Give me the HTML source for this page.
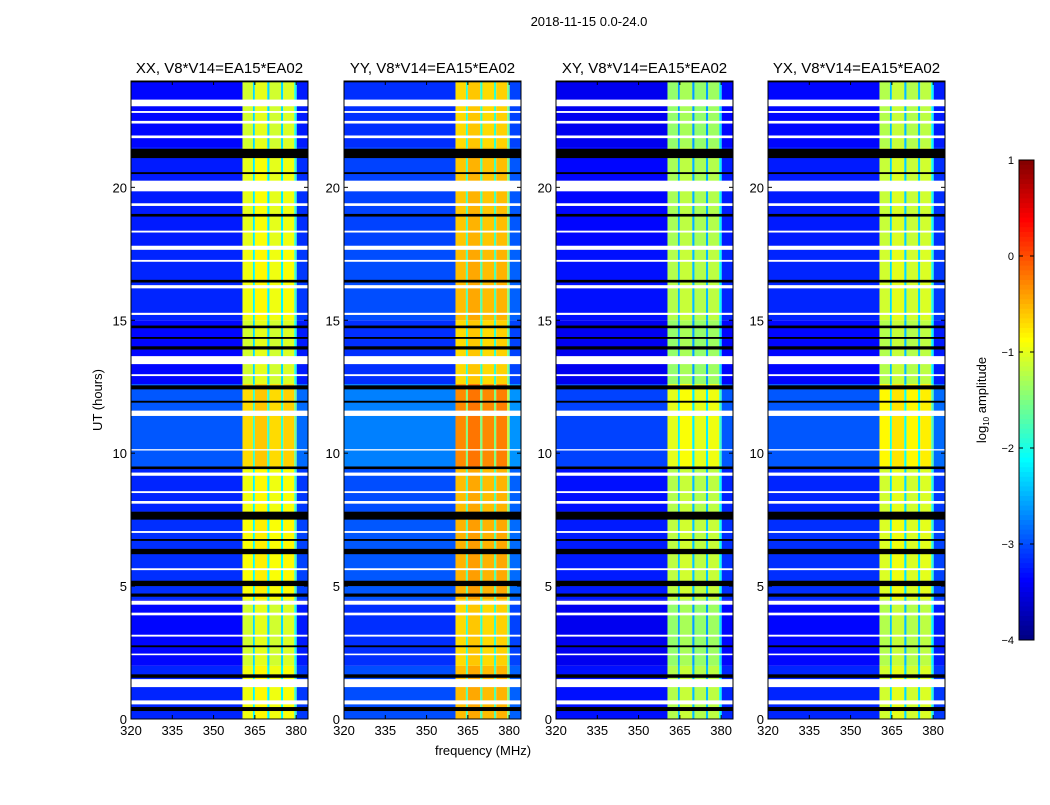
<!DOCTYPE html>
<html><head><meta charset="utf-8"><style>
body{margin:0;background:#fff;font-family:"Liberation Sans","DejaVu Sans",sans-serif}
svg text{font-family:"Liberation Sans","DejaVu Sans",sans-serif;fill:#000}
</style></head><body>
<svg id="fig" width="1050" height="800" xmlns="http://www.w3.org/2000/svg">
<text x="589" y="26" font-size="13" text-anchor="middle">2018-11-15 0.0-24.0</text>
<text x="483" y="755" font-size="13" text-anchor="middle">frequency (MHz)</text>
<text transform="translate(102,400) rotate(-90)" font-size="13" text-anchor="middle">UT (hours)</text>
<g id="panels"></g>
<g id="cbar"></g>
</svg>
<script>
const panelTitles=["XX, V8*V14=EA15*EA02","YY, V8*V14=EA15*EA02","XY, V8*V14=EA15*EA02","YX, V8*V14=EA15*EA02"];
const bgLevels=[-3.25,-3.05,-3.35,-3.25];
const bandLevels=[-1.0,-0.6,-1.3,-1.15];
const subBandStart=[320,360.5,364.3,365.0,369.5,370.3,374.5,375.3,379.3,380.2];
const subBandEnd=[360.5,364.3,365.0,369.5,370.3,374.5,375.3,379.3,380.2,384.5];
const subBandOffset=[0,0,-1.2,0.1,-1.2,0.0,-1.2,0.05,-0.9,-99];
const xTicks=[320,335,350,365,380];
const yTicks=[0,5,10,15,20];
const timeSegStart=[0,2,4.5,7.8,9.5,12.6,15,17.8,21.5];
const timeSegEnd=[2,4.5,7.8,9.5,12.6,15,17.8,21.5,24];
const timeSegOffset=[0.05,-0.1,0.1,0.05,0.3,-0.1,0.05,0.0,-0.1];
const whiteFlags=[[23.05,23.3],[22.4,22.5],[21.85,21.95],[19.85,20.25],[19.3,19.4],[17.65,17.8],[17.2,17.27],[16.2,16.32],[15.2,15.28],[13.35,13.65],[12.9,12.97],[11.4,11.6],[10.1,10.15],[9.15,9.27],[8.5,8.57],[8.1,8.2],[7.0,7.07],[4.3,4.45],[3.9,4.0],[3.1,3.17],[1.2,1.5],[0.55,0.7],[2.4,2.46],[5.6,5.67],[18.3,18.37],[22.8,22.87]];
const blackFlags=[[23.95,24],[21.1,21.45],[20.5,20.57],[18.9,19.0],[16.42,16.52],[14.7,14.8],[13.9,14.02],[12.4,12.55],[11.9,11.97],[9.4,9.5],[7.5,7.8],[6.2,6.4],[5.0,5.2],[4.6,4.72],[2.7,2.77],[1.55,1.68],[0.3,0.45],[6.7,6.77],[14.3,14.37]];
const cbTicks=[1,0,-1,-2,-3,-4];

const NS="http://www.w3.org/2000/svg";
function mk(t,a,p){const e=document.createElementNS(NS,t);for(const k in a)e.setAttribute(k,a[k]);p.appendChild(e);return e;}
function jet(v){let t=(v+4)/5;t=Math.max(0,Math.min(1,t));
 const r=Math.max(0,Math.min(1,1.5-Math.abs(4*t-3))),g=Math.max(0,Math.min(1,1.5-Math.abs(4*t-2))),b=Math.max(0,Math.min(1,1.5-Math.abs(4*t-1)));
 return `rgb(${Math.round(r*255)},${Math.round(g*255)},${Math.round(b*255)})`;}
const lefts=[131,344,556,768],W=177,T=81,B=719;
function xs(p,f){return lefts[p]+(f-320)/(384.3-320)*W;}
function ys(h){return B-h/24*(B-T);}
const root=document.getElementById('panels');
for(let p=0;p<4;p++){
 const g=mk('g',{},root);
 
 
 for(let s=0;s<timeSegStart.length;s++){
  for(let c=0;c<subBandStart.length;c++){
   const base=subBandOffset[c]<-50?bgLevels[p]+0.1:(c==0?bgLevels[p]:bandLevels[p]+subBandOffset[c]);
   const v=base+timeSegOffset[s];
   const x0=xs(p,subBandStart[c]),x1=Math.min(lefts[p]+W,xs(p,subBandEnd[c]));
   const r=mk('rect',{x:x0,y:ys(timeSegEnd[s]),width:x1-x0,height:ys(timeSegStart[s])-ys(timeSegEnd[s]),fill:jet(v)},g);
   
   
  }
 }
 whiteFlags.forEach(f=>{const r=mk('rect',{x:lefts[p],y:ys(f[1]),width:W,height:ys(f[0])-ys(f[1]),fill:'#fff'},g);
  });
 blackFlags.forEach(f=>{const r=mk('rect',{x:lefts[p],y:ys(f[1]),width:W,height:ys(f[0])-ys(f[1]),fill:'#000'},g);
  });
 const fr=mk('rect',{x:lefts[p],y:T,width:W,height:B-T,fill:'none',stroke:'#000','stroke-width':1},g);
 
 const tt=mk('text',{x:lefts[p]+W/2,y:T-8,'font-size':15,'text-anchor':'middle'},g);tt.textContent=panelTitles[p];
 
 xTicks.forEach(v=>{const x=xs(p,v);mk('line',{x1:x,x2:x,y1:B,y2:B-4,stroke:'#000'},g);mk('line',{x1:x,x2:x,y1:T,y2:T+4,stroke:'#000'},g);
  const t=mk('text',{x:x,y:B+16,'font-size':13,'text-anchor':'middle'},g);t.textContent=v;
  });
 yTicks.forEach(v=>{const y=ys(v);mk('line',{x1:lefts[p],x2:lefts[p]+4,y1:y,y2:y,stroke:'#000'},g);mk('line',{x1:lefts[p]+W,x2:lefts[p]+W-4,y1:y,y2:y,stroke:'#000'},g);
  const t=mk('text',{x:lefts[p]-4,y:y+5,'font-size':13,'text-anchor':'end'},g);t.textContent=v;
  });
}
const cb=document.getElementById('cbar');
const cx=1019,cw=15,cT=160,cB=640;
function cy(v){return cT+(1-v)/5*(cB-cT);}
for(let i=0;i<100;i++){const v0=1-i*0.05;mk('rect',{x:cx,y:cy(v0),width:cw,height:(cB-cT)/100+0.5,fill:jet(v0-0.025)},cb);}
mk('rect',{x:cx,y:cT,width:cw,height:cB-cT,fill:'none',stroke:'#000'},cb);
cbTicks.forEach(v=>{const y=cy(v);mk('line',{x1:cx,x2:cx+4,y1:y,y2:y,stroke:'#000'},cb);mk('line',{x1:cx+cw,x2:cx+cw-4,y1:y,y2:y,stroke:'#000'},cb);
 const t=mk('text',{x:cx-5,y:y+4,'font-size':11,'text-anchor':'end'},cb);t.textContent=v<0?'\u2212'+(-v):v;
 });
const cl=mk('text',{transform:'translate(986,400) rotate(-90)','font-size':13,'text-anchor':'middle'},cb);
cl.innerHTML='log<tspan font-size="8" dy="3">10</tspan><tspan dy="-3"> amplitude</tspan>';

</script>
</body></html>
